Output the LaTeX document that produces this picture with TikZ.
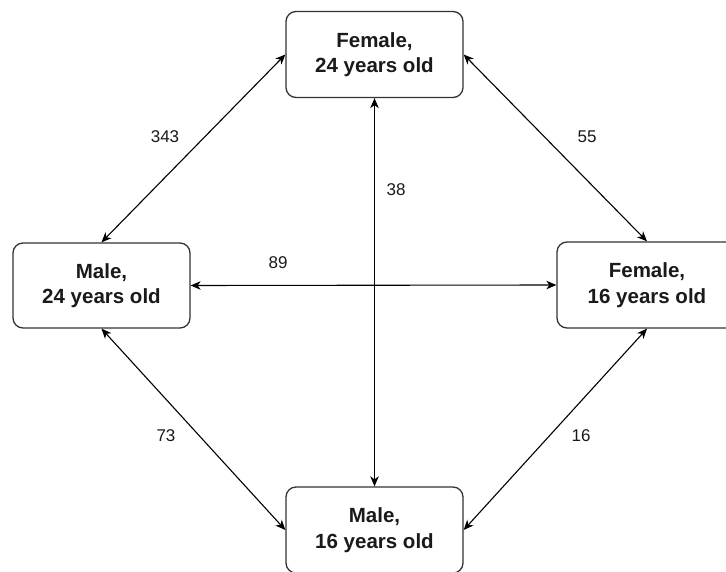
\documentclass[tikz,border=0pt]{standalone}
\usepackage{fontspec}
\setmainfont{Liberation Sans}
\usetikzlibrary{arrows.meta}
\definecolor{boxline}{HTML}{333333}
\definecolor{txt}{HTML}{1A1A1A}
\begin{document}
\begin{tikzpicture}[x=1pt,y=-1pt,
  person/.style={draw=boxline, line width=1.3pt, rounded corners=10pt, fill=white,
    minimum width=177pt, minimum height=86pt, inner sep=0pt, align=center,
    text=txt, font=\fontsize{20.5}{25.5}\selectfont\bfseries},
  link/.style={draw=black, line width=1.1pt, {Stealth[length=10pt,width=8.5pt,inset=3pt]}-{Stealth[length=10pt,width=8.5pt,inset=3pt]}},
  count/.style={text=txt, font=\fontsize{17}{20}\selectfont, inner sep=0pt}]
\useasboundingbox (0,0) rectangle (726,572);
\fill[white] (0,0) rectangle (726,572);
\node[person] (f24) at (374.5,54.5) {Female,\\24 years old};
\node[person, minimum height=85pt] (m24) at (101.5,285.5) {Male,\\24 years old};
\node[person, minimum width=180pt] (f16) at (647,285) {Female,\\16 years old};
\node[person] (m16) at (374.5,530) {Male,\\16 years old};
\draw[link] (f24.west) -- (m24.north);
\draw[link] (f24.east) -- (f16.north);
\draw[link] (m24.south) -- (m16.west);
\draw[link] (f16.south) -- (m16.east);
\draw[link] (m24.east) -- (f16.west);
\draw[link] (f24.south) -- (m16.north);
\node[count] (l343) at (165,137) {343};
\node[count] (l55) at (587,137) {55};
\node[count] (l73) at (166,436) {73};
\node[count] (l16) at (581,436) {16};
\node[count] (l89) at (278,263) {89};
\node[count] (l38) at (396,190) {38};
\end{tikzpicture}
\end{document}
